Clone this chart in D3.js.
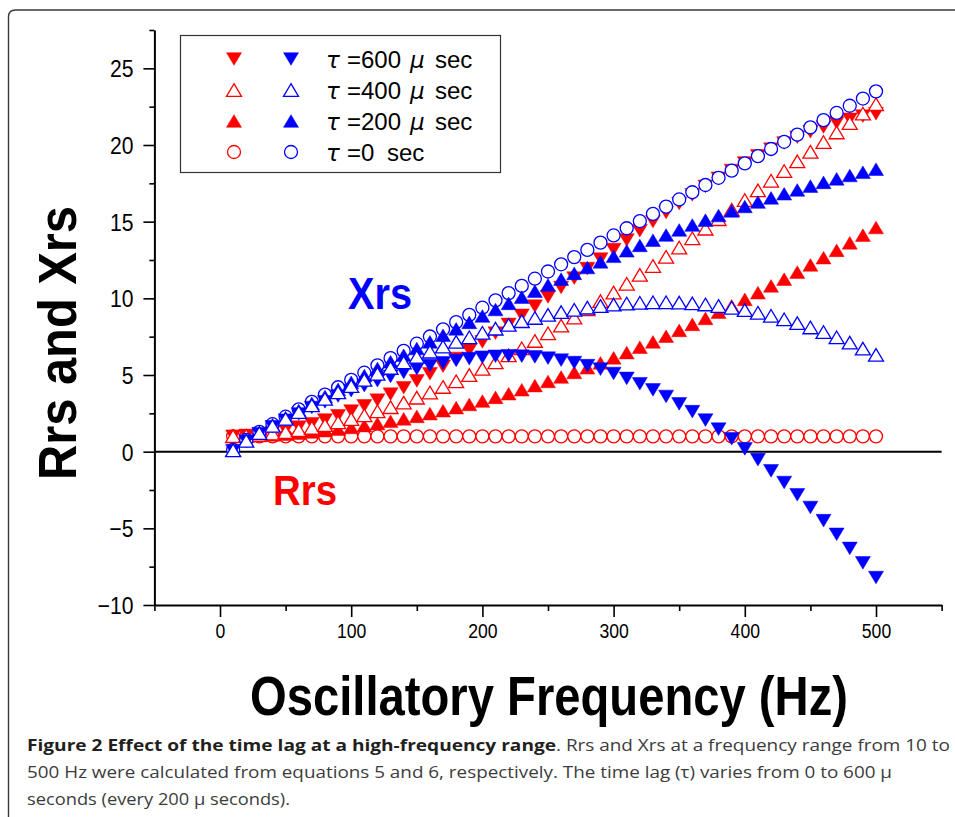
<!DOCTYPE html>
<html><head><meta charset="utf-8">
<script src="https://cdn.jsdelivr.net/npm/d3@7"></script>
<style>
body{margin:0;background:#fff;}
svg{display:block;font-family:"Liberation Sans",Arial,sans-serif;}
</style></head><body>
<svg id="c" width="955" height="817"></svg>
<script>
// ---------- data ----------
const freq = [10,20,30,40,50,60,70,80,90,100,110,120,130,140,150,160,170,180,190,200,
  210,220,230,240,250,260,270,280,290,300,310,320,330,340,350,360,370,380,390,400,
  410,420,430,440,450,460,470,480,490,500];

const rrs0 = [1,1,1,1,1,1,1,1,1,1,1,1,1,1,1,1,1,1,1,1,1,1,1,1,1,1,1,1,1,1,
  1,1,1,1,1,1,1,1,1,1,1,1,1,1,1,1,1,1,1,1];
const xrs0 = [0.12,0.76,1.29,1.79,2.28,2.76,3.25,3.72,4.20,4.68,5.15,5.63,6.10,6.57,7.04,7.51,7.98,8.45,8.92,9.39,
  9.87,10.34,10.81,11.28,11.75,12.22,12.69,13.16,13.63,14.10,14.57,15.04,15.51,15.98,16.45,16.92,17.39,17.86,18.33,18.80,
  19.27,19.74,20.21,20.68,21.15,21.62,22.09,22.56,23.03,23.50];

const rrs200 = [1.00,1.02,1.05,1.09,1.14,1.21,1.28,1.37,1.47,1.58,1.70,1.83,1.98,2.14,2.30,2.48,2.67,2.87,3.08,3.30,
  3.54,3.78,4.04,4.31,4.58,4.87,5.17,5.47,5.79,6.12,6.46,6.81,7.16,7.53,7.91,8.30,8.69,9.10,9.51,9.93,
  10.37,10.81,11.25,11.71,12.18,12.65,13.13,13.62,14.12,14.62];
const xrs200 = [0.11,0.73,1.25,1.74,2.21,2.68,3.15,3.60,4.06,4.52,4.96,5.42,5.86,6.29,6.73,7.16,7.59,8.01,8.43,8.85,
  9.27,9.67,10.08,10.47,10.87,11.25,11.63,12.01,12.38,12.74,13.10,13.45,13.79,14.13,14.46,14.78,15.10,15.40,15.70,15.99,
  16.28,16.55,16.82,17.07,17.32,17.56,17.79,18.01,18.22,18.42];

const rrs400 = [1.01,1.04,1.10,1.18,1.28,1.41,1.56,1.73,1.92,2.13,2.37,2.63,2.90,3.20,3.52,3.86,4.22,4.59,4.99,5.40,
  5.83,6.28,6.74,7.22,7.72,8.22,8.74,9.28,9.82,10.38,10.95,11.53,12.11,12.71,13.31,13.92,14.54,15.16,15.78,16.41,
  17.04,17.67,18.30,18.93,19.56,20.19,20.82,21.43,22.05,22.66];
const xrs400 = [0.09,0.71,1.21,1.68,2.14,2.58,3.02,3.44,3.87,4.28,4.68,5.08,5.46,5.82,6.18,6.52,6.85,7.16,7.46,7.75,
  8.02,8.27,8.51,8.72,8.92,9.10,9.25,9.39,9.50,9.59,9.66,9.71,9.74,9.74,9.72,9.67,9.60,9.50,9.38,9.23,
  9.06,8.86,8.63,8.38,8.10,7.80,7.46,7.11,6.72,6.31];

const rrs600 = [1.01,1.06,1.15,1.26,1.42,1.60,1.82,2.07,2.34,2.65,2.99,3.36,3.75,4.17,4.62,5.08,5.57,6.08,6.61,7.16,
  7.73,8.30,8.89,9.49,10.09,10.71,11.32,11.94,12.56,13.18,13.80,14.41,15.01,15.60,16.18,16.75,17.30,17.83,18.34,18.83,
  19.29,19.73,20.13,20.51,20.86,21.17,21.45,21.68,21.88,22.04];
const xrs600 = [0.06,0.68,1.17,1.62,2.05,2.46,2.88,3.25,3.63,3.98,4.31,4.63,4.91,5.17,5.41,5.62,5.80,5.95,6.07,6.16,
  6.22,6.25,6.23,6.18,6.10,5.97,5.81,5.61,5.38,5.10,4.78,4.43,4.03,3.60,3.12,2.61,2.06,1.47,0.84,0.18,
  -0.52,-1.25,-2.01,-2.81,-3.64,-4.50,-5.39,-6.31,-7.25,-8.21];

const xMajorTicks = [0,100,200,300,400,500];
const xMinorTicks = [-50,50,150,250,350,450,550];
const yMajorTicks = [-10,-5,0,5,10,15,20,25];
const yMinorTicks = [-7.5,-2.5,2.5,7.5,12.5,17.5,22.5,27.5];

const legendTau = ["=600","=400","=200","=0"];
const legendUnit = ["\u03bc","\u03bc","\u03bc",""];

// ---------- styles ----------
const RED = "#ff0000", BLUE = "#0000ff";
const series = [
  {vals: rrs0,   color: RED,  shape: "circle", filled: false},
  {vals: rrs600, color: RED,  shape: "down",   filled: true},
  {vals: rrs200, color: RED,  shape: "up",     filled: true},
  {vals: rrs400, color: RED,  shape: "up",     filled: false},
  {vals: xrs0,   color: BLUE, shape: "circle", filled: false},
  {vals: xrs600, color: BLUE, shape: "down",   filled: true},
  {vals: xrs200, color: BLUE, shape: "up",     filled: true},
  {vals: xrs400, color: BLUE, shape: "up",     filled: false}
];
const legendShapes = [["down",true],["up",false],["up",true],["circle",false]];

const svg = d3.select("#c");
const x = d3.scaleLinear().domain([-50, 550]).range([154.4, 941.6]);
const y = d3.scaleLinear().domain([-10, 27.5]).range([605, 30]);

// frame border
svg.append("path")
  .attr("d", "M8.5,817 L8.5,17 Q8.5,10 15.5,10 L955,10")
  .attr("fill", "none").attr("stroke", "#3a3a3a").attr("stroke-width", 1.4);

// zero line
svg.append("line")
  .attr("x1", x(-50)).attr("x2", x(550)).attr("y1", y(0)).attr("y2", y(0))
  .attr("stroke", "#000").attr("stroke-width", 2);

// axes
function styleAxis(g){
  g.select(".domain").attr("stroke", "#000").attr("stroke-width", 2);
  g.selectAll(".tick line").attr("stroke", "#000").attr("stroke-width", 1.6);
}
const gxMinor = svg.append("g").attr("transform", `translate(0,${y(-10)})`)
  .call(d3.axisBottom(x).tickValues(xMinorTicks).tickSize(6).tickSizeOuter(0).tickFormat(""));
gxMinor.select(".domain").remove();
styleAxis(gxMinor);
const gx = svg.append("g").attr("transform", `translate(0,${y(-10)})`)
  .call(d3.axisBottom(x).tickValues(xMajorTicks).tickSize(12).tickSizeOuter(0));
styleAxis(gx);
gx.selectAll(".tick text")
  .attr("y", 18).attr("dy", "0.71em")
  .attr("font-size", 21).attr("fill", "#000")
  .attr("font-family", '"Liberation Sans", Arial, sans-serif')
  .attr("transform", "scale(0.84,1)");

const gyMinor = svg.append("g").attr("transform", `translate(${x(-50)},0)`)
  .call(d3.axisLeft(y).tickValues(yMinorTicks).tickSize(5).tickSizeOuter(0).tickFormat(""));
gyMinor.select(".domain").remove();
styleAxis(gyMinor);
const gy = svg.append("g").attr("transform", `translate(${x(-50)},0)`)
  .call(d3.axisLeft(y).tickValues(yMajorTicks).tickSize(11).tickSizeOuter(0));
styleAxis(gy);
gy.selectAll(".tick text")
  .attr("x", -21 / 0.88).attr("dy", "0.36em")
  .attr("font-size", 24).attr("fill", "#000")
  .attr("font-family", '"Liberation Sans", Arial, sans-serif')
  .attr("transform", "scale(0.88,1)");

// markers
function markerPath(shape){
  if (shape === "up") return "M0,-6.3 L7.5,6.3 L-7.5,6.3 Z";
  if (shape === "down") return "M0,6.3 L7.5,-6.3 L-7.5,-6.3 Z";
  return null;
}
function addMarker(sel, shape, color, filled){
  if (shape === "circle") {
    sel.append("circle").attr("r", 6.5)
      .attr("fill", filled ? color : "#fff").attr("stroke", color).attr("stroke-width", 1.3);
  } else {
    sel.append("path").attr("d", markerPath(shape))
      .attr("fill", filled ? color : "#fff").attr("stroke", color)
      .attr("stroke-width", filled ? 0.5 : 1.3).attr("stroke-linejoin", "miter");
  }
}
series.forEach(s => {
  const g = svg.append("g");
  const pts = g.selectAll("g").data(freq.map((f, i) => [f, s.vals[i]])).join("g")
    .attr("transform", d => `translate(${x(d[0])},${y(d[1])})`);
  pts.each(function(){ addMarker(d3.select(this), s.shape, s.color, s.filled); });
});

// legend
const lg = svg.append("g");
lg.append("rect").attr("x", 180.5).attr("y", 35.5).attr("width", 320).attr("height", 137)
  .attr("fill", "#fff").attr("stroke", "#333").attr("stroke-width", 1.2);
const rowsY = [59, 90, 121, 152];
legendTau.forEach((t, i) => {
  const ry = rowsY[i];
  const [shape, filled] = legendShapes[i];
  addMarker(lg.append("g").attr("transform", `translate(234,${ry})`), shape, RED, filled);
  addMarker(lg.append("g").attr("transform", `translate(291,${ry})`), shape, BLUE, filled);
  const tg = lg.append("g").attr("font-size", 24).attr("fill", "#000");
  tg.append("text").attr("x", 326).attr("y", ry + 8.5).attr("font-style", "italic")
    .attr("font-family", '"DejaVu Sans", sans-serif').attr("font-size", 23).text("\u03c4");
  tg.append("text").attr("x", 347).attr("y", ry + 8.5).text(t);
  if (legendUnit[i]) {
    tg.append("text").attr("x", 410).attr("y", ry + 8.5).attr("font-style", "italic")
      .attr("font-family", '"DejaVu Sans", sans-serif').attr("font-size", 23).text(legendUnit[i]);
    tg.append("text").attr("x", 435).attr("y", ry + 8.5).text("sec");
  } else {
    tg.append("text").attr("x", 387).attr("y", ry + 8.5).text("sec");
  }
});

// in-plot labels
svg.append("text").attr("x", 348).attr("y", 309).attr("font-size", 44).attr("font-weight", "bold")
  .attr("fill", BLUE).attr("textLength", 64).attr("lengthAdjust", "spacingAndGlyphs").text("Xrs");
svg.append("text").attr("x", 273).attr("y", 505).attr("font-size", 43).attr("font-weight", "bold")
  .attr("fill", RED).attr("textLength", 64).attr("lengthAdjust", "spacingAndGlyphs").text("Rrs");

// axis titles
svg.append("text").attr("transform", "translate(76,343) rotate(-90)")
  .attr("text-anchor", "middle").attr("font-size", 54).attr("font-weight", "bold")
  .attr("textLength", 274).attr("lengthAdjust", "spacingAndGlyphs").attr("fill", "#000")
  .text("Rrs and Xrs");
svg.append("text").attr("x", 250).attr("y", 715)
  .attr("font-size", 55).attr("font-weight", "bold")
  .attr("textLength", 598).attr("lengthAdjust", "spacingAndGlyphs").attr("fill", "#000")
  .text("Oscillatory Frequency (Hz)");

// caption
const cap = svg.append("g").attr("font-family", '"Open Sans", "Noto Sans", sans-serif').attr("font-size", 16.5);
cap.append("text").attr("x", 27).attr("y", 751).attr("font-weight", "bold").attr("fill", "#231f20")
  .attr("textLength", 529).attr("lengthAdjust", "spacingAndGlyphs")
  .text("Figure 2 Effect of the time lag at a high-frequency range");
cap.append("text").attr("x", 556).attr("y", 751).attr("fill", "#3c3c3c")
  .attr("textLength", 394).attr("lengthAdjust", "spacingAndGlyphs")
  .text(". Rrs and Xrs at a frequency range from 10 to");
cap.append("text").attr("x", 27).attr("y", 778).attr("fill", "#3c3c3c")
  .attr("textLength", 865).attr("lengthAdjust", "spacingAndGlyphs")
  .text("500 Hz were calculated from equations 5 and 6, respectively. The time lag (\u03c4) varies from 0 to 600 \u03bc");
cap.append("text").attr("x", 27).attr("y", 805).attr("fill", "#3c3c3c")
  .attr("textLength", 263).attr("lengthAdjust", "spacingAndGlyphs")
  .text("seconds (every 200 \u03bc seconds).");
</script>
</body></html>
